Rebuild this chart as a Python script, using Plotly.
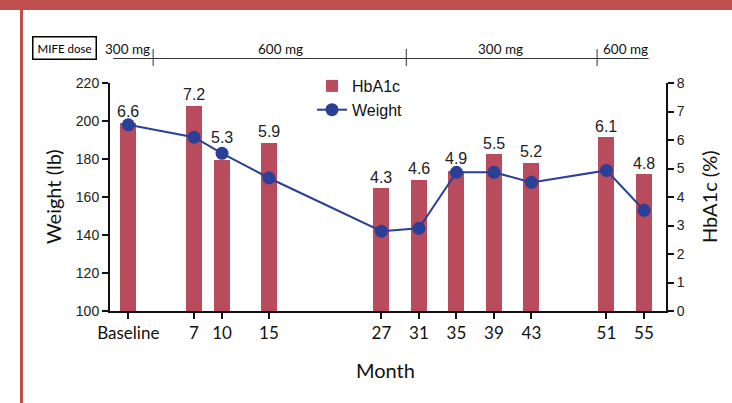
import plotly.graph_objects as go

months = [0, 7, 10, 15, 27, 31, 35, 39, 43, 51, 55]
tick_labels = ["Baseline", "7", "10", "15", "27", "31", "35", "39", "43", "51", "55"]
hba1c = [6.6, 7.2, 5.3, 5.9, 4.3, 4.6, 4.9, 5.5, 5.2, 6.1, 4.8]
weight = [198, 191.5, 183, 170, 142, 143.5, 173, 173, 167.7, 174, 153]

dose_labels = ["300 mg", "600 mg", "300 mg", "600 mg"]
dose_label_months = [-0.1, 16.2, 39.7, 53.0]
dose_change_months = [2.65, 29.65, 50.0]
dose_line_span = [-1.6, 55.5]

BAR = "rgb(184,76,93)"
BLUE = "rgb(42,63,150)"
RED = "rgb(192,80,77)"

# label lift (px) above bar tops; a few raised to clear the weight markers
label_lift_default = 11
label_lift_special = {10: 22, 35: 13}

fig = go.Figure()
fig.add_trace(go.Bar(
    x=months, y=hba1c, name="HbA1c", yaxis="y",
    marker=dict(color=BAR, line=dict(width=0)),
    width=1.7,
))
fig.add_trace(go.Scatter(
    x=months, y=weight, name="Weight", yaxis="y2", mode="lines+markers",
    line=dict(color=BLUE, width=2),
    marker=dict(color=BLUE, size=13),
    cliponaxis=False,
))

L, R, T, B = 110, 66, 83, 92
W, H = 732, 403
pw, ph = W - L - R, H - T - B

def py(pix):
    return (H - B - pix) / ph

def px(pix):
    return (pix - L) / pw

shapes = []
# red border
shapes.append(dict(type="rect", xref="paper", yref="paper", x0=px(-2), x1=px(W + 2),
                   y0=py(10), y1=py(-2), fillcolor=RED, line=dict(width=0), layer="below"))
shapes.append(dict(type="rect", xref="paper", yref="paper", x0=px(20), x1=px(23),
                   y0=py(H + 2), y1=py(0), fillcolor=RED, line=dict(width=0), layer="below"))
# dose timeline
shapes.append(dict(type="line", xref="x", yref="paper", x0=dose_line_span[0], x1=dose_line_span[1],
                   y0=py(58.5), y1=py(58.5), line=dict(color="#333", width=1)))
for m in dose_change_months:
    shapes.append(dict(type="line", xref="x", yref="paper", x0=m, x1=m,
                       y0=py(49), y1=py(66), line=dict(color="#333", width=1)))

annotations = []
for m, v in zip(months, hba1c):
    annotations.append(dict(text=f"{v:.1f}", xref="x", yref="y", x=m, y=v,
                            yshift=label_lift_special.get(m, label_lift_default),
                            showarrow=False, xanchor="center", yanchor="middle",
                            font=dict(family="Liberation Sans, Arial", size=16, color="#222")))
annotations.append(dict(text="MIFE dose", xref="paper", yref="paper", x=px(64.5), y=py(47.5),
                        showarrow=False, font=dict(family="Lato", size=11.5, color="#000"),
                        bordercolor="#000", borderwidth=1.5, borderpad=4, bgcolor="white",
                        xanchor="center", yanchor="middle"))
for lab, m in zip(dose_labels, dose_label_months):
    annotations.append(dict(text=lab, xref="x", yref="paper", x=m, y=py(49),
                            showarrow=False, font=dict(family="Lato", size=13.5, color="#111"),
                            xanchor="center", yanchor="middle"))
annotations.append(dict(text="Weight (lb)", xref="paper", yref="paper", x=px(53), y=0.5,
                        textangle=-90, showarrow=False, xanchor="center", yanchor="middle",
                        font=dict(family="Lato", size=20, color="#111")))
annotations.append(dict(text="HbA1c (%)", xref="paper", yref="paper", x=px(709), y=0.5,
                        textangle=-90, showarrow=False, xanchor="center", yanchor="middle",
                        font=dict(family="Lato", size=20, color="#111")))
annotations.append(dict(text="Month", xref="paper", yref="paper", x=px(385), y=py(370),
                        showarrow=False, xanchor="center", yanchor="middle",
                        font=dict(family="Lato", size=20, color="#111")))

fig.update_layout(
    width=W, height=H,
    margin=dict(l=L, r=R, t=T, b=B, pad=0),
    paper_bgcolor="white", plot_bgcolor="white",
    showlegend=True,
    legend=dict(x=px(312), y=py(69), xanchor="left", yanchor="top",
                font=dict(family="Liberation Sans, Arial", size=16, color="#111"),
                bgcolor="rgba(0,0,0,0)", tracegroupgap=0, itemwidth=30),
    xaxis=dict(range=[-1.95, 57.35], tickmode="array", tickvals=months, ticktext=tick_labels,
               showgrid=False, zeroline=False, showline=True, linecolor="#111", linewidth=2,
               ticks="outside", ticklen=6, tickwidth=1.5, tickcolor="#111",
               tickfont=dict(family="Lato", size=17, color="#111")),
    yaxis=dict(range=[0, 8], side="right", dtick=1, showgrid=False, zeroline=False,
               showline=True, linecolor="#111", linewidth=2, ticks="outside", ticklen=6,
               tickwidth=1.5, tickcolor="#111",
               tickfont=dict(family="Liberation Sans, Arial", size=14, color="#222")),
    yaxis2=dict(range=[100, 220], side="left", overlaying="y", dtick=20, showgrid=False,
                zeroline=False, showline=True, linecolor="#111", linewidth=2, ticks="outside",
                ticklen=6, tickwidth=1.5, tickcolor="#111",
                tickfont=dict(family="Liberation Sans, Arial", size=14, color="#222")),
    shapes=shapes, annotations=annotations,
    bargap=0,
)

fig.write_html("out.html", post_script="document.body.style.margin='0';",
               config={"displayModeBar": False})
